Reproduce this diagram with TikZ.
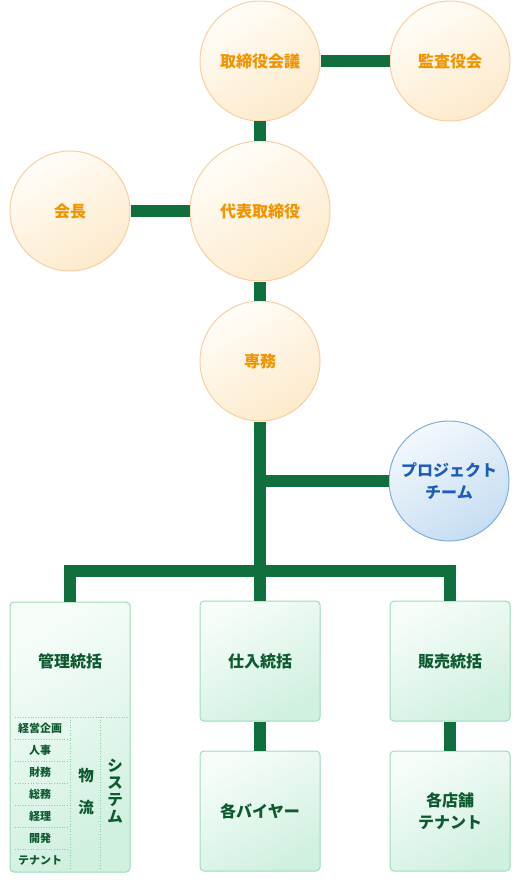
\documentclass[tikz,border=0pt]{standalone}
\usepackage{fontspec}
\setmainfont{Noto Sans CJK JP}
\definecolor{connGreen}{HTML}{106F3C}
\definecolor{circBorder}{HTML}{F6CFA3}
\definecolor{circLight}{HTML}{FFFDF8}
\definecolor{circDark}{HTML}{FDEACB}
\definecolor{boxBorder}{HTML}{9CDCB8}
\definecolor{boxLight}{HTML}{F6FDF9}
\definecolor{boxDark}{HTML}{D0F0E0}
\definecolor{ptBorder}{HTML}{7FAEDB}
\definecolor{ptLight}{HTML}{F3F8FD}
\definecolor{ptDark}{HTML}{C6DDF2}
\definecolor{orangeText}{HTML}{F29400}
\definecolor{greenText}{HTML}{0E5A30}
\definecolor{blueText}{HTML}{1B5DB8}
\definecolor{dotGreen}{HTML}{8CCFA6}
\begin{document}
\begin{tikzpicture}[x=1pt,y=-1pt,
  orgcirc/.style={circle, draw=circBorder, line width=1pt, inner sep=0pt,
    top color=circLight, bottom color=circDark, shading angle=30,
    minimum size=#1, font=\bfseries\fontsize{16}{18}\selectfont, text=orangeText},
  orgcirc/.default=120pt,
  ptcirc/.style={circle, draw=ptBorder, line width=1pt, inner sep=0pt,
    top color=ptLight, bottom color=ptDark, shading angle=30,
    minimum size=120pt, align=center, font=\bfseries\fontsize{16}{22}\selectfont, text=blueText},
  orgbox/.style={rectangle, rounded corners=4pt, draw=boxBorder, line width=1pt, inner sep=0pt,
    top color=boxLight, bottom color=boxDark, shading angle=30,
    minimum width=120pt, minimum height=#1, align=center,
    font=\bfseries\fontsize{16}{22}\selectfont, text=greenText},
  orgbox/.default=120pt,
  conn/.style={draw=connGreen, line width=12pt, line join=miter},
  itemtxt/.style={font=\bfseries\fontsize{11}{12}\selectfont, text=greenText, inner sep=0pt},
  vtxt/.style={font=\bfseries\fontsize{15.5}{17}\selectfont, text=greenText, align=center, inner sep=0pt},
  dotline/.style={draw=dotGreen, line width=0.6pt, dotted},
]
\useasboundingbox (0,0) rectangle (520,880);

\coordinate (bar) at (260,571);
\coordinate (ptjoin) at (260,481);

% nodes
\node[orgcirc] (tori) at (260,61) {取締役会議};
\node[orgcirc] (kansa) at (450,61) {監査役会};
\node[orgcirc] (kaicho) at (70,211) {会長};
\node[orgcirc=140pt] (daihyo) at (260,211) {代表取締役};
\node[orgcirc] (senmu) at (260,361) {専務};
\node[ptcirc] (pt) at (449,481) {プロジェクト\\チーム};

\node[orgbox=270pt] (kanri) at (70,737) {};
\node[orgbox] (shiire) at (260,661) {仕入統括};
\node[orgbox] (hanbai) at (450,661) {販売統括};
\node[orgbox] (buyer) at (260,811) {各バイヤー};
\node[orgbox] (tenpo) at (450,811) {各店舗\\テナント};

% connectors
\draw[conn] (tori.east) -- (kansa.west);
\draw[conn] (tori.south) -- (daihyo.north);
\draw[conn] (kaicho.east) -- (daihyo.west);
\draw[conn] (daihyo.south) -- (senmu.north);
\draw[conn] (senmu.south) -- (bar) -- (shiire.north);
\draw[conn] (ptjoin) -- (pt.west);
\draw[conn] (kanri.north) -- (kanri.north |- bar) -- (hanbai.north |- bar) -- (hanbai.north);
\draw[conn] (shiire.south) -- (buyer.north);
\draw[conn] (hanbai.south) -- (tenpo.north);

% inside the management box
\node[font=\bfseries\fontsize{16}{18}\selectfont, text=greenText] (kanriT) at (70,661) {管理統括};
\draw[dotline] (15,717) -- (127,717);
\draw[dotline] (70,717) -- (70,868);
\draw[dotline] (100,717) -- (100,868);
\foreach \yy in {739,761,783,805,827,849}{
  \draw[dotline] (15,\yy) -- (68,\yy);
}
\node[itemtxt] (i1) at (40,728) {経営企画};
\node[itemtxt] (i2) at (40,750) {人事};
\node[itemtxt] (i3) at (40,772) {財務};
\node[itemtxt] (i4) at (40,794) {総務};
\node[itemtxt] (i5) at (40,816) {経理};
\node[itemtxt] (i6) at (40,838) {開発};
\node[itemtxt] (i7) at (40,860) {テナント};
\node[vtxt] (butsu) at (86,776) {物};
\node[vtxt] (ryu) at (86,808) {流};
\node[vtxt] (sys) at (115,791) {シ\\ス\\テ\\ム};
\end{tikzpicture}
\end{document}
